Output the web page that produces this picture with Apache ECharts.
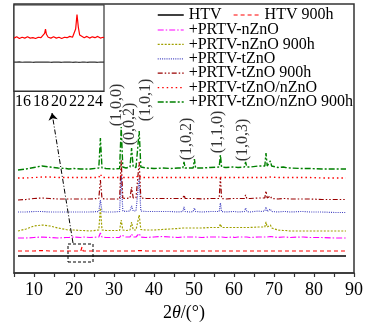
<!DOCTYPE html>
<html>
<head>
<meta charset="utf-8">
<script src="https://cdn.jsdelivr.net/npm/echarts@6/dist/echarts.min.js"></script>
<style>
  html, body { margin: 0; padding: 0; background: #fff; }
  #chart { width: 366px; height: 325px; }
</style>
</head>
<body>
<div id="chart"></div>
<script>
/* 衍射角 2θ 采样点 (主图) */
const angles = [6, 8, 10, 12, 14, 16, 18, 18.3, 18.5, 18.7,
  20, 21.7, 22, 22.3, 24, 26.2, 26.6, 27.0, 28, 30,
  31.4, 31.8, 32.2, 33, 34.0, 34.4, 34.8, 35.5, 35.9, 36.3,
  36.7, 38, 40, 42, 44, 46, 47.2, 47.5, 47.8, 49,
  49.8, 50.1, 50.4, 52, 54, 56.3, 56.6, 56.9, 58, 59.6,
  59.9, 60.2, 61, 62.6, 62.9, 63.2, 64, 66.1, 66.4, 66.7,
  67.7, 68.0, 68.3, 68.8, 69.1, 69.4, 71, 72.3, 72.6, 72.9,
  74, 76.7, 77, 77.3, 79, 82, 85, 88];

/* 各曲线强度 (已叠加偏移, 任意单位) */
const htv = [17, 17, 17, 17, 17, 17, 17, 17, 17, 17,
  17, 17, 17, 17, 17, 17, 17, 17, 17, 17,
  17, 17, 17, 17, 17, 17, 17, 17, 17, 17,
  17, 17, 17, 17, 17, 17, 17, 17, 17, 17,
  17, 17, 17, 17, 17, 17, 17, 17, 17, 17,
  17, 17, 17, 17, 17, 17, 17, 17, 17, 17,
  17, 17, 17, 17, 17, 17, 17, 17, 17, 17,
  17, 17, 17, 17, 17, 17, 17, 17];
const htv900 = [22, 22, 22, 22.5, 22, 22, 22, 22, 23.5, 22,
  22, 22, 26, 22, 22, 22, 22.5, 22, 22, 22,
  22, 22.5, 22, 22, 22, 22, 22, 22, 22, 22.5,
  22, 22, 22, 22, 22, 22, 22, 22, 22, 22,
  22, 22, 22, 22, 22, 22, 22, 22, 22, 22,
  22, 22, 22, 22, 22, 22, 22, 22, 22, 22,
  22, 22, 22, 22, 22, 22, 22, 22, 22, 22,
  22, 22, 22, 22, 22, 22, 22, 22];
const nZnO = [35, 35, 35.5, 36, 35.5, 35, 35.5, 35.5, 36, 35.5,
  36, 35.5, 37, 36, 35.5, 36, 40, 36, 35.5, 35.5,
  35.5, 38, 36, 36, 36, 39, 36, 36, 36, 39.5,
  36, 35.5, 36, 36.5, 36, 35.5, 36, 37.5, 36, 36,
  36, 37, 36, 35.5, 36, 36, 38, 36, 35.5, 36,
  36.5, 35.5, 36, 36, 37, 36, 35.5, 36, 36.5, 36,
  36, 37.5, 36, 36, 36.5, 36, 35.5, 36, 36.5, 36,
  35.5, 36, 36.5, 36, 35.5, 35.5, 35, 35];
const nZnO900 = [42, 44, 47, 48, 47, 45, 43.5, 43, 43, 43,
  43, 42.5, 43, 42.5, 42, 43, 65, 43, 42.5, 42.5,
  42.5, 53, 43, 42.5, 43, 51, 43, 43, 43.5, 58,
  43.5, 43, 43, 43.5, 44, 44.5, 45, 47, 45, 45,
  45, 46.5, 45, 45, 45.5, 45.5, 49, 45.5, 45.5, 45.5,
  47, 45.5, 45.5, 45.5, 47.5, 45.5, 45.5, 46, 47.5, 46,
  46, 51, 46, 46, 48, 45, 43, 42.5, 43.5, 42.5,
  42, 42, 43, 42, 42, 42, 42, 42];
const tZnO = [61, 61, 61.5, 61.5, 61, 61, 61, 61, 61, 61,
  61, 61, 61.5, 61, 61, 61.5, 73, 61.5, 61, 61,
  61.5, 97, 62, 61.5, 62, 67, 62, 62, 62.5, 95,
  62, 61.5, 61.5, 61.5, 61.5, 61, 61.5, 66, 61.5, 61,
  61.5, 65, 61.5, 61, 61.5, 61.5, 70, 61.5, 61, 61.5,
  63, 61.5, 61, 61.5, 65, 61.5, 61, 62, 64, 61.5,
  62, 66, 61.5, 62, 64, 61.5, 61, 61.5, 63, 61.5,
  61, 61.5, 63, 61.5, 61, 61, 60.5, 60.5];
const tZnO900 = [73, 73.5, 74.5, 75, 74.5, 74, 74, 74, 74, 74,
  74, 74, 74.5, 74, 74, 74.5, 93, 74.5, 74, 74,
  74, 113, 75, 74.5, 75, 86, 75, 75, 75.5, 111,
  75, 74.5, 74.5, 74.5, 74.5, 74.5, 74.5, 78, 74.5, 74.5,
  74.5, 76, 74.5, 74, 74.5, 74.5, 96, 74.5, 74, 74.5,
  76, 74.5, 74.5, 74.5, 78, 74.5, 74.5, 75, 77, 75,
  75, 82, 75, 75, 77, 74.5, 74, 74.5, 76, 74.5,
  74, 74, 75.5, 74, 74, 73.5, 73.5, 73.5];
const tnZnO = [95, 95, 95.5, 96, 96, 95.5, 95.5, 95.5, 95.5, 95.5,
  95.5, 95.5, 96, 95.5, 95.5, 95.5, 99, 95.5, 95.5, 95.5,
  95.5, 98, 95.5, 95.5, 95.5, 97, 95.5, 95.5, 95.5, 98,
  95.5, 95.5, 95.5, 95.5, 95.5, 95.5, 95.5, 96.5, 95.5, 95.5,
  95.5, 96, 95.5, 95.5, 95.5, 95.5, 97, 95.5, 95.5, 95.5,
  96, 95.5, 95.5, 95.5, 96, 95.5, 95.5, 95.5, 96, 95.5,
  95.5, 96.5, 95.5, 95.5, 96, 95.5, 95.5, 95.5, 95.5, 95.5,
  95.5, 95.5, 95.5, 95.5, 95.5, 95, 95, 95];
const tnZnO900 = [103, 104, 105.5, 107, 106, 105, 104.5, 104, 104.5, 104,
  104.5, 104, 105, 104, 104, 105, 135, 105, 104.5, 104,
  104.5, 146, 106, 105, 106, 125, 106, 105.5, 106, 142,
  106, 105, 104.5, 105, 104.5, 105, 105, 111, 105, 105,
  105, 114, 105, 105, 105.5, 106, 118, 106, 105.5, 106,
  108, 106, 105.5, 106, 111, 106, 106, 107, 109, 107,
  107, 120, 107, 107, 112, 107, 105.5, 106, 107, 105.5,
  105, 104.5, 106, 104.5, 104.5, 104, 104, 104];

/* 晶面标注 */
const peakNames = ['(1,0,0)', '(0,0,2)', '(1,0,1)', '(1,0,2)', '(1,1,0)', '(1,0,3)'];
const peakLabelX = [30.75, 34.0, 38.0, 48.25, 56.0, 62.25];
const peakLabelY = [168, 149, 173, 134, 141, 133];

/* 局部放大图 */
const insetAngles = [15, 15.3, 15.6, 15.9, 16.2, 16.5, 16.8, 17.1, 17.4, 17.7,
  18.0, 18.2, 18.4, 18.5, 18.6, 18.8, 19.1, 19.4, 19.7, 20.0,
  20.3, 20.6, 20.9, 21.2, 21.5, 21.7, 21.85, 22.0, 22.15, 22.3,
  22.5, 22.8, 23.1, 23.4, 23.7, 24.0, 24.3, 24.6, 24.9, 25];
const insetRed = [61.5, 63, 61, 62.5, 61.5, 63, 61.5, 62, 61, 62.5,
  62, 63, 67, 72, 66, 62.5, 61.5, 63, 61.5, 62.5,
  61, 62.5, 62, 63.5, 62.5, 64, 72, 89, 74, 65,
  63, 62, 63.5, 61.5, 63, 62, 63.5, 61.5, 62.5, 62];
const insetBlack = [33.5, 33.5, 33.8, 33.4, 33.6, 33.5, 33.7, 33.4, 33.5, 33.6,
  33.5, 33.4, 33.6, 33.5, 33.5, 33.7, 33.4, 33.5, 33.6, 33.5,
  33.4, 33.6, 33.5, 33.7, 33.4, 33.5, 33.6, 33.5, 33.4, 33.6,
  33.5, 33.7, 33.4, 33.5, 33.6, 33.5, 33.4, 33.6, 33.5, 33.5];

function pairs (xs, ys) {
  return xs.map((x, i) => [x, ys[i]])
}

const font = 'Liberation Serif'

/* 曲线样式 */
const lines = [
  { name: 'HTV', data: htv, color: '#000000', type: 'solid', width: 1.5 },
  { name: 'HTV 900h', data: htv900, color: '#ff0000', type: [4, 3], width: 1.2 },
  { name: '+PRTV-nZnO', data: nZnO, color: '#ff00ff', type: [6, 2, 1.5, 2], width: 1.2 },
  { name: '+PRTV-nZnO 900h', data: nZnO900, color: '#a0a000', type: [2, 1.5], width: 1.2 },
  { name: '+PRTV-tZnO', data: tZnO, color: '#4040c0', type: [1, 1.2], width: 1.2 },
  { name: '+PRTV-tZnO 900h', data: tZnO900, color: '#990000', type: [5, 2, 1.5, 2, 1.5, 2], width: 1.2 },
  { name: '+PRTV-tZnO/nZnO', data: tnZnO, color: '#ff0000', type: [1.5, 3], width: 1.3 },
  { name: '+PRTV-tZnO/nZnO 900h', data: tnZnO900, color: '#008000', type: [6, 2, 2, 2], width: 1.4 }
]

const series = lines.map(l => ({
  name: l.name,
  type: 'line',
  xAxisIndex: 0,
  yAxisIndex: 0,
  symbol: 'none',
  silent: true,
  animation: false,
  lineStyle: { color: l.color, width: l.width, type: l.type },
  itemStyle: { color: l.color },
  data: pairs(angles, l.data)
}))

/* 虚线框与箭头 */
series[0].markArea = {
  silent: true,
  itemStyle: { color: 'rgba(0,0,0,0)', borderColor: '#000', borderWidth: 1, borderType: [3, 2] },
  data: [[{ coord: [18.5, 11] }, { coord: [24.75, 29] }]]
}
series[0].markLine = {
  silent: true,
  animation: false,
  symbol: ['none', 'arrow'],
  symbolSize: 7,
  label: { show: false },
  lineStyle: { color: '#000', width: 1, type: [5, 2, 1, 2] },
  data: [[{ coord: [19.75, 30] }, { coord: [14.5, 160] }]]
}

series.push({
  type: 'scatter',
  xAxisIndex: 0,
  yAxisIndex: 0,
  symbolSize: 0,
  silent: true,
  animation: false,
  label: {
    show: true,
    position: 'inside',
    rotate: 90,
    fontFamily: font,
    fontSize: 16,
    color: '#000',
    formatter: p => p.name
  },
  data: peakNames.map((n, i) => ({ name: n, value: [peakLabelX[i], peakLabelY[i]] }))
})

series.push({
  type: 'line', xAxisIndex: 1, yAxisIndex: 1, symbol: 'none', silent: true, animation: false, z: 12,
  lineStyle: { color: '#ff0000', width: 1.2 },
  data: pairs(insetAngles, insetRed)
}, {
  type: 'line', xAxisIndex: 1, yAxisIndex: 1, symbol: 'none', silent: true, animation: false, z: 12,
  lineStyle: { color: '#333333', width: 1.2 },
  data: pairs(insetAngles, insetBlack)
})

const legendText = { fontFamily: font, fontSize: 16, color: '#000', lineHeight: 14 }
const legendBase = {
  itemWidth: 26, itemHeight: 14, selectedMode: false,
  textStyle: legendText, itemStyle: { opacity: 0 }, padding: 0
}

const legendItems = lines.map(l => ({
  name: l.name,
  lineStyle: { color: l.color, width: l.width, type: l.type },
  itemStyle: { opacity: 0 }
}))

const chart = echarts.init(document.getElementById('chart'), null, { renderer: 'canvas' })
chart.setOption({
  backgroundColor: '#fff',
  animation: false,
  textStyle: { fontFamily: font },
  legend: [
    Object.assign({}, legendBase, { left: 157, top: 7, data: legendItems.slice(0, 1) }),
    Object.assign({}, legendBase, { left: 233, top: 7, data: legendItems.slice(1, 2) }),
    Object.assign({}, legendBase, { left: 157, top: 22, orient: 'vertical', itemGap: -1.6, data: legendItems.slice(2) })
  ],
  grid: [
    { left: 14, right: 12, top: 4, bottom: 52, outerBoundsMode: 'none', containLabel: false, show: true, borderColor: '#333', borderWidth: 1.5, backgroundColor: '#fff' },
    { left: 14, top: 5, width: 90, height: 86, outerBoundsMode: 'none', containLabel: false, show: true, borderColor: '#333', borderWidth: 1.2, backgroundColor: '#fff', z: 10 }
  ],
  xAxis: [
    {
      type: 'value', gridIndex: 0, min: 5, max: 90, interval: 5,
      axisLine: { show: true, lineStyle: { color: '#333', width: 1.5 } },
      axisTick: { show: true, length: 4, lineStyle: { color: '#333', width: 1.2 } },
      splitLine: { show: false },
      axisLabel: {
        fontFamily: font, fontSize: 18, color: '#000', margin: 8,
        formatter: v => (v % 10 === 0 ? String(v) : '')
      },
      name: '{a|2}{b|θ}{a|/(°)}',
      nameLocation: 'middle',
      nameGap: 27,
      nameTextStyle: {
        verticalAlign: 'top',
        rich: {
          a: { fontFamily: font, fontSize: 18, color: '#000' },
          b: { fontFamily: font, fontSize: 18, color: '#000', fontStyle: 'italic' }
        }
      }
    },
    {
      type: 'value', gridIndex: 1, min: 15, max: 25, interval: 1, z: 12,
      axisLine: { show: true, lineStyle: { color: '#333', width: 1.2 } },
      axisTick: { show: false },
      splitLine: { show: false },
      axisLabel: {
        fontFamily: font, fontSize: 16, color: '#000', margin: 3,
        formatter: v => (v % 2 === 0 ? String(v) : '')
      }
    }
  ],
  yAxis: [
    { type: 'value', gridIndex: 0, min: 0, max: 269, show: false, splitLine: { show: false } },
    { type: 'value', gridIndex: 1, min: 0, max: 100, show: false, splitLine: { show: false } }
  ],
  series: series
})
</script>
</body>
</html>
